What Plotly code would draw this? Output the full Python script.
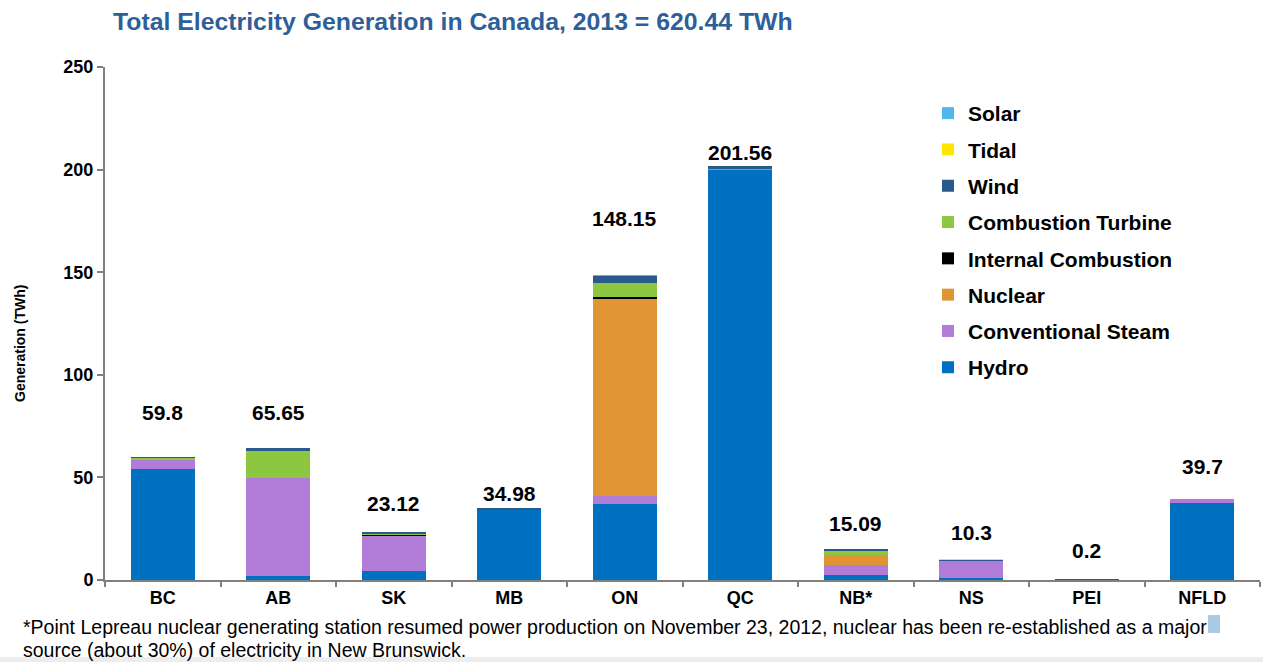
import plotly.graph_objects as go

# provinces and generation by source (TWh)
provinces = ["BC", "AB", "SK", "MB", "ON", "QC", "NB*", "NS", "PEI", "NFLD"]
hydro = [54.0, 2.1, 4.5, 34.4, 37.0, 199.9, 2.4, 0.9, 0.0, 37.3]
conventional_steam = [4.8, 47.4, 17.0, 0.1, 3.9, 0.4, 4.9, 8.4, 0.0, 2.3]
nuclear = [0.0, 0.0, 0.0, 0.0, 96.4, 0.0, 4.9, 0.0, 0.0, 0.0]
internal_combustion = [0.0, 0.0, 0.6, 0.0, 0.4, 0.2, 0.1, 0.1, 0.0, 0.0]
combustion_turbine = [0.8, 13.4, 0.7, 0.0, 7.0, 0.2, 2.1, 0.1, 0.0, 0.0]
wind = [0.2, 1.6, 0.6, 0.5, 3.5, 0.9, 0.7, 0.5, 0.2, 0.0]
tidal = [0.0, 0.0, 0.0, 0.0, 0.0, 0.0, 0.0, 0.2, 0.0, 0.0]
solar = [0.0, 0.0, 0.0, 0.0, 0.2, 0.0, 0.0, 0.0, 0.0, 0.0]
total_labels = ["59.8", "65.65", "23.12", "34.98", "148.15", "201.56", "15.09", "10.3", "0.2", "39.7"]
# height (TWh) where each total label sits
label_heights = [81.5, 81.5, 37.2, 42.2, 176.0, 208.3, 27.4, 23.3, 14.3, 55.2]

series = [
    ("Hydro", hydro, "#0070C0"),
    ("Conventional Steam", conventional_steam, "#B07CD8"),
    ("Nuclear", nuclear, "#E09433"),
    ("Internal Combustion", internal_combustion, "#000000"),
    ("Combustion Turbine", combustion_turbine, "#8DC63F"),
    ("Wind", wind, "#2A5A8C"),
    ("Tidal", tidal, "#FFE600"),
    ("Solar", solar, "#4FB8E8"),
]

FONT = "Liberation Sans, Arial, sans-serif"
W, H = 1263, 662
L, R, T, B = 105, 3, 67, 82
plot_w = W - L - R
plot_h = H - T - B


def px_x(px):
    return (px - L) / plot_w


def px_y(py):
    return (H - B - py) / plot_h


fig = go.Figure()
for i, (name, values, color) in enumerate(series):
    fig.add_trace(go.Bar(
        x=provinces, y=values, name="<b>" + name + "</b>", legendgroup=name,
        legendrank=len(series) - i,
        marker=dict(color=color, line=dict(width=0)),
    ))

# total labels above each bar
for prov, text, h in zip(provinces, total_labels, label_heights):
    fig.add_annotation(x=prov, y=h, text="<b>" + text + "</b>", showarrow=False,
                       font=dict(family=FONT, size=21, color="#000000"),
                       xanchor="center", yanchor="middle")

# y axis title
fig.add_annotation(xref="paper", yref="paper", x=px_x(20), y=px_y(344),
                   text="<b>Generation (TWh)</b>", textangle=-90, showarrow=False,
                   font=dict(family=FONT, size=14, color="#000000"),
                   xanchor="center", yanchor="middle")

# footnote
fig.add_annotation(xref="paper", yref="paper", x=px_x(21), y=px_y(627),
                   text="*Point Lepreau nuclear generating station resumed power production on "
                        "November 23, 2012, nuclear has been re-established as a major",
                   showarrow=False, font=dict(family=FONT, size=19.5, color="#000000"),
                   xanchor="left", yanchor="middle")
fig.add_annotation(xref="paper", yref="paper", x=px_x(21), y=px_y(650),
                   text="source (about 30%) of electricity in New Brunswick.",
                   showarrow=False, font=dict(family=FONT, size=19.5, color="#000000"),
                   xanchor="left", yanchor="middle")

# selection highlight after "major" and grey strip at the bottom edge
fig.add_shape(type="rect", xref="paper", yref="paper",
              x0=px_x(1208), x1=px_x(1220), y0=px_y(633), y1=px_y(615),
              fillcolor="#A9C9E4", line=dict(width=0), layer="below")
fig.add_shape(type="rect", xref="paper", yref="paper",
              x0=px_x(0), x1=px_x(W), y0=px_y(H), y1=px_y(657),
              fillcolor="#EDEDED", line=dict(width=0), layer="below")

fig.update_layout(
    width=W, height=H,
    barmode="stack", bargap=0.447,
    plot_bgcolor="white", paper_bgcolor="white",
    margin=dict(l=L, r=R, t=T, b=B),
    title=dict(text="<b>Total Electricity Generation in Canada, 2013 = 620.44 TWh</b>",
               x=113 / W, xanchor="left", xref="container",
               y=1 - 21 / H, yanchor="middle", yref="container",
               font=dict(family=FONT, size=24.8, color="#2D5F9A")),
    font=dict(family=FONT, color="#000000"),
    legend=dict(x=px_x(928), y=px_y(93), xanchor="left", yanchor="top",
                traceorder="grouped", tracegroupgap=6,
                font=dict(family=FONT, size=21, color="#000000"),
                bgcolor="rgba(0,0,0,0)"),
    xaxis=dict(showline=True, linecolor="#808080", linewidth=2,
               ticks="outside", tickson="boundaries", ticklen=5,
               tickcolor="#808080", tickwidth=1.5,
               tickfont=dict(family=FONT, size=18, color="#000000"),
               tickprefix="<b>", ticksuffix="</b>"),
    yaxis=dict(range=[0, 250], dtick=50, showgrid=False, zeroline=False,
               showline=True, linecolor="#808080", linewidth=2,
               ticks="outside", ticklen=6, tickcolor="#808080", tickwidth=1.5,
               tickfont=dict(family=FONT, size=18, color="#000000"),
               tickprefix="<b>", ticksuffix="</b>"),
)

# drop the browser's default body margin so the figure sits at the page corner
fig.write_html("out.html", config={"displayModeBar": False},
               post_script="document.body.style.margin='0';")
